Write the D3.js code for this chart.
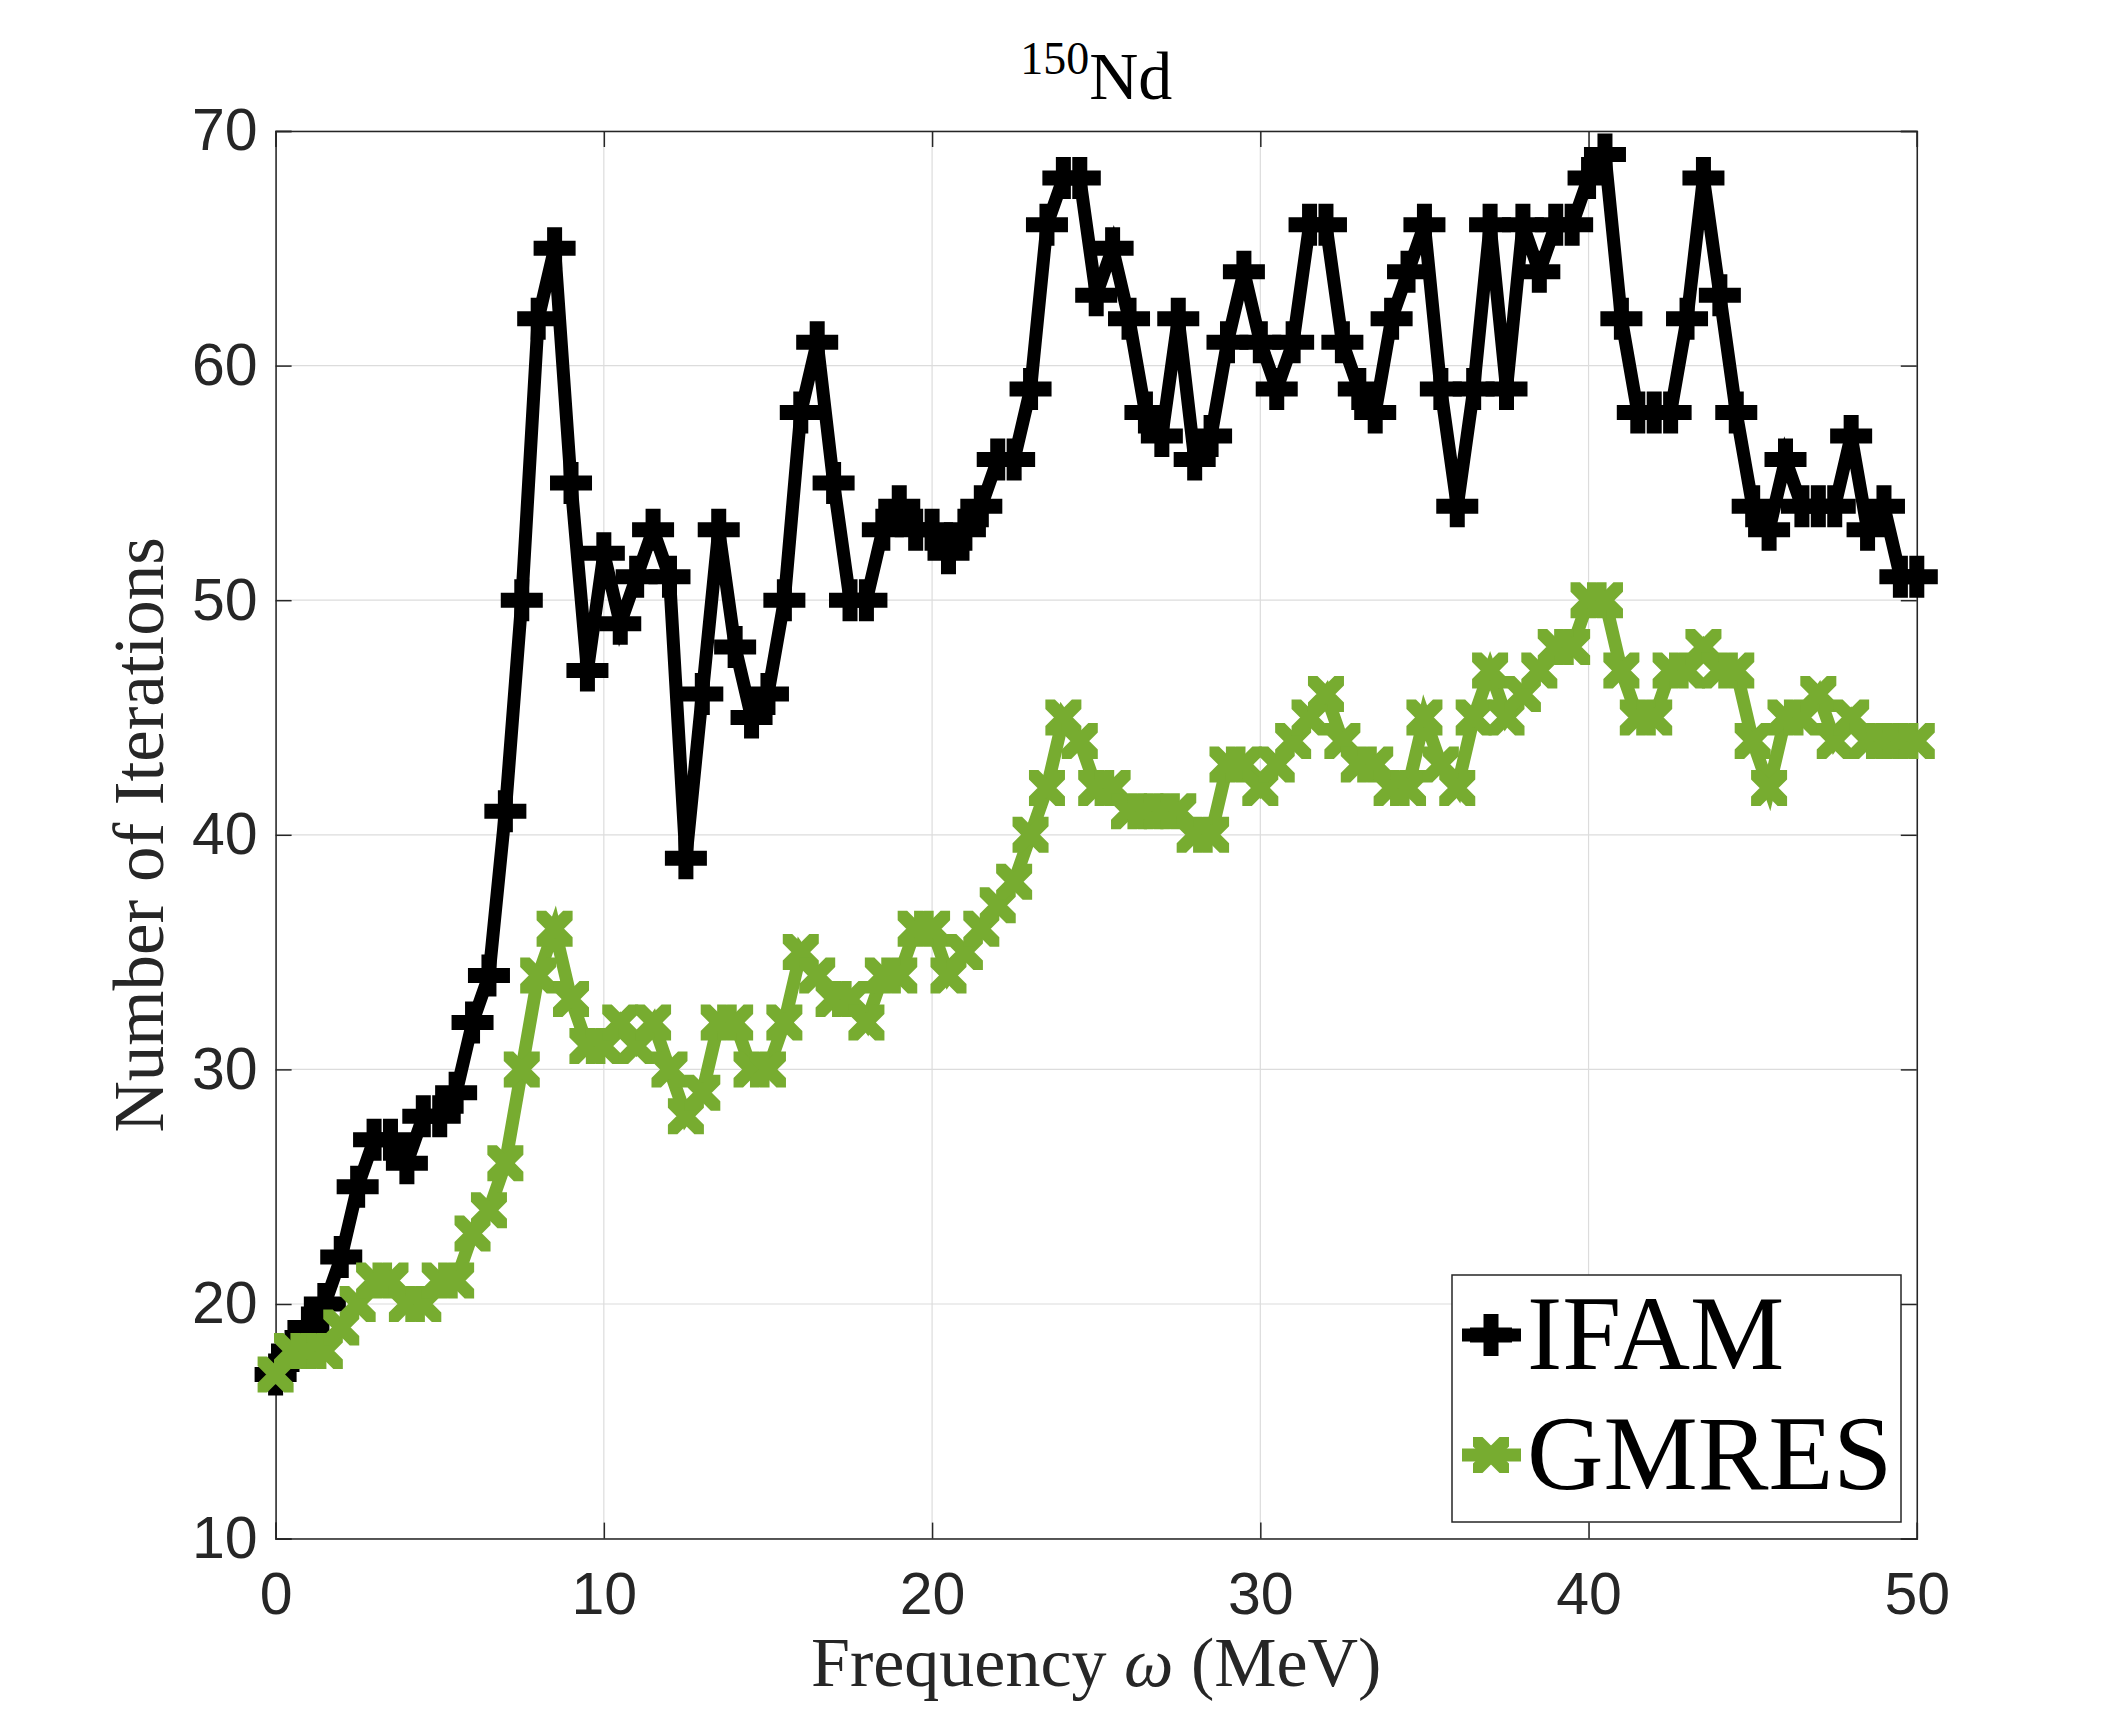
<!DOCTYPE html>
<html>
<head>
<meta charset="utf-8">
<title>150Nd iterations</title>
<script src="https://d3js.org/d3.v7.min.js"></script>
<style>
  body { margin: 0; background: #fff; }
  .tick text { font-family: "Liberation Sans", Arial, sans-serif; fill: #262626; }
</style>
</head>
<body>
<div id="chart"></div>
<script>

// frequency grid (MeV)
var freq = [0,0.5,1,1.5,2,2.5,3,3.5,4,4.5,5,5.5,6,6.5,7,7.5,8,8.5,9,9.5,
  10,10.5,11,11.5,12,12.5,13,13.5,14,14.5,15,15.5,16,16.5,17,17.5,18,18.5,19,19.5,
  20,20.5,21,21.5,22,22.5,23,23.5,24,24.5,25,25.5,26,26.5,27,27.5,28,28.5,29,29.5,
  30,30.5,31,31.5,32,32.5,33,33.5,34,34.5,35,35.5,36,36.5,37,37.5,38,38.5,39,39.5,
  40,40.5,41,41.5,42,42.5,43,43.5,44,44.5,45,45.5,46,46.5,47,47.5,48,48.5,49,49.5,50]

// number of iterations
var ifam = [17,18,19,20,22,25,27,27,26,28,
  28,29,32,34,41,50,62,65,55,47,
  52,49,51,53,51,39,46,53,48,45,
  46,50,58,61,55,50,50,53,54,53,
  53,52,53,54,56,56,59,66,68,68,
  63,65,62,58,57,62,56,57,61,64,
  61,59,61,66,66,61,59,58,62,64,
  66,59,54,59,66,59,66,64,66,66,
  68,69,62,58,58,58,62,68,63,58,
  54,53,56,54,54,54,57,53,54,51,
  51]

var gmres = [17,18,18,18,19,20,21,21,20,20,
  21,21,23,24,26,30,34,36,33,31,
  31,32,31,32,30,28,29,32,32,30,
  30,32,35,34,33,33,32,34,34,36,
  36,34,35,36,37,38,40,42,45,44,
  42,42,41,41,41,41,40,40,43,43,
  42,43,44,45,46,44,43,43,42,42,
  45,43,42,45,47,45,46,47,48,48,
  50,50,47,45,45,47,47,48,47,47,
  44,42,45,45,46,44,45,44,44,44,
  44]

var xTicks = [0, 10, 20, 30, 40, 50]
var yTicks = [10, 20, 30, 40, 50, 60, 70]
var seriesNames = ["IFAM", "GMRES"]

var width = 2118
var height = 1730
var plot = {left: 275.6, right: 1916.8, top: 131, bottom: 1538.6}
var axisColor = "#262626"
var black = "#000000"
var green = "#77AC30"

var svg = d3.select("#chart")
  .append("svg")
    .attr("width", width)
    .attr("height", height)
    .style("display", "block")

svg.append("rect")
  .attr("width", width)
  .attr("height", height)
  .attr("fill", "#fff")

var x = d3.scaleLinear().domain([0, 50]).range([plot.left, plot.right])
var y = d3.scaleLinear().domain([10, 70]).range([plot.bottom, plot.top])

// grid
var grid = svg.append("g").attr("stroke", "#dcdcdc").attr("stroke-width", 1.2)
grid.selectAll(".gx").data(xTicks).enter().append("line")
  .attr("x1", d => x(d)).attr("x2", d => x(d))
  .attr("y1", plot.top).attr("y2", plot.bottom)
grid.selectAll(".gy").data(yTicks).enter().append("line")
  .attr("x1", plot.left).attr("x2", plot.right)
  .attr("y1", d => y(d)).attr("y2", d => y(d))

// axes (ticks pointing inward, like matlab)
var tickLen = 16
var fontSize = 59

var xAxis = svg.append("g")
  .attr("transform", "translate(0," + plot.bottom + ")")
  .call(d3.axisBottom(x).tickValues(xTicks).tickSize(-tickLen).tickPadding(tickLen + 18).tickFormat(d3.format("d")))
var yAxis = svg.append("g")
  .attr("transform", "translate(" + plot.left + ",0)")
  .call(d3.axisLeft(y).tickValues(yTicks).tickSize(-tickLen).tickPadding(tickLen + 2).tickFormat(d3.format("d")))
var xTop = svg.append("g")
  .attr("transform", "translate(0," + plot.top + ")")
  .call(d3.axisTop(x).tickValues(xTicks).tickSize(-tickLen).tickFormat(""))
var yRight = svg.append("g")
  .attr("transform", "translate(" + plot.right + ",0)")
  .call(d3.axisRight(y).tickValues(yTicks).tickSize(-tickLen).tickFormat(""))

;[xAxis, yAxis, xTop, yRight].forEach(function(g) {
  g.select(".domain").attr("stroke", axisColor).attr("stroke-width", 1.5)
  g.selectAll(".tick line").attr("stroke", axisColor).attr("stroke-width", 1.5)
  g.selectAll(".tick text").style("font-size", fontSize + "px")
})

// lines
var line = d3.line()
  .x(function(d, i) { return x(freq[i]) })
  .y(function(d) { return y(d) })

// marker shapes
var L = 21, t = 7.5
var plusPath = "M" + (-L) + "," + (-t) + "H" + L + "V" + t + "H" + (-L) + "Z" +
               "M" + (-t) + "," + (-L) + "H" + t + "V" + L + "H" + (-t) + "Z"
var h = 18, dd = 9.5
var crossPath = "M" + (-h) + "," + (-h) + "L" + (-h + dd) + "," + (-h) + "L" + h + "," + (h - dd) +
  "L" + h + "," + h + "L" + (h - dd) + "," + h + "L" + (-h) + "," + (-h + dd) + "Z" +
  "M" + h + "," + (-h + dd) + "L" + (-h + dd) + "," + h + "L" + (-h) + "," + h +
  "L" + (-h) + "," + (h - dd) + "L" + (h - dd) + "," + (-h) + "L" + h + "," + (-h) + "Z"

function drawSeries(values, color, marker) {
  var g = svg.append("g")
  g.append("path")
    .datum(values)
    .attr("d", line)
    .attr("fill", "none")
    .attr("stroke", color)
    .attr("stroke-width", 13)
    .attr("stroke-linejoin", "miter")
  g.selectAll(".m")
    .data(values)
    .enter()
    .append("path")
      .attr("d", marker)
      .attr("transform", function(d, i) { return "translate(" + x(freq[i]) + "," + y(d) + ")" })
      .attr("fill", color)
}

drawSeries(ifam, black, plusPath)
drawSeries(gmres, green, crossPath)

// labels
var serif = "'Liberation Serif', 'Times New Roman', serif"

svg.append("text")
  .attr("x", (plot.left + plot.right) / 2)
  .attr("y", 1686)
  .attr("text-anchor", "middle")
  .style("font-family", serif)
  .style("font-size", "70px")
  .style("fill", axisColor)
  .html('Frequency <tspan font-style="italic">ω</tspan> (MeV)')

svg.append("text")
  .attr("transform", "translate(163," + ((plot.top + plot.bottom) / 2) + ") rotate(-90)")
  .attr("text-anchor", "middle")
  .style("font-family", serif)
  .style("font-size", "71px")
  .style("fill", axisColor)
  .text("Number of Iterations")

var title = svg.append("text")
  .attr("x", (plot.left + plot.right) / 2)
  .attr("y", 99)
  .attr("text-anchor", "middle")
  .style("font-family", serif)
  .style("font-size", "68px")
  .style("fill", "#000")
title.append("tspan").attr("dy", -25).style("font-size", "46px").text("150")
title.append("tspan").attr("dy", 25).text("Nd")

// legend
var leg = {x0: 1452, x1: 1901, y0: 1275, y1: 1522}
svg.append("rect")
  .attr("x", leg.x0).attr("y", leg.y0)
  .attr("width", leg.x1 - leg.x0).attr("height", leg.y1 - leg.y0)
  .attr("fill", "#fff")
  .attr("stroke", axisColor)
  .attr("stroke-width", 1.5)

var legendRows = [
  {name: seriesNames[0], color: black, marker: plusPath, y: 1335},
  {name: seriesNames[1], color: green, marker: crossPath, y: 1455}
]
var rows = svg.selectAll(".leg").data(legendRows).enter().append("g")
rows.append("line")
  .attr("x1", 1462).attr("x2", 1521)
  .attr("y1", d => d.y).attr("y2", d => d.y)
  .attr("stroke", d => d.color)
  .attr("stroke-width", 13)
rows.append("path")
  .attr("d", d => d.marker)
  .attr("transform", d => "translate(1491," + d.y + ")")
  .attr("fill", d => d.color)
rows.append("text")
  .attr("x", 1527)
  .attr("y", d => d.y + 34)
  .style("font-family", serif)
  .style("font-size", "106px")
  .style("fill", "#000")
  .text(d => d.name)

</script>
</body>
</html>
